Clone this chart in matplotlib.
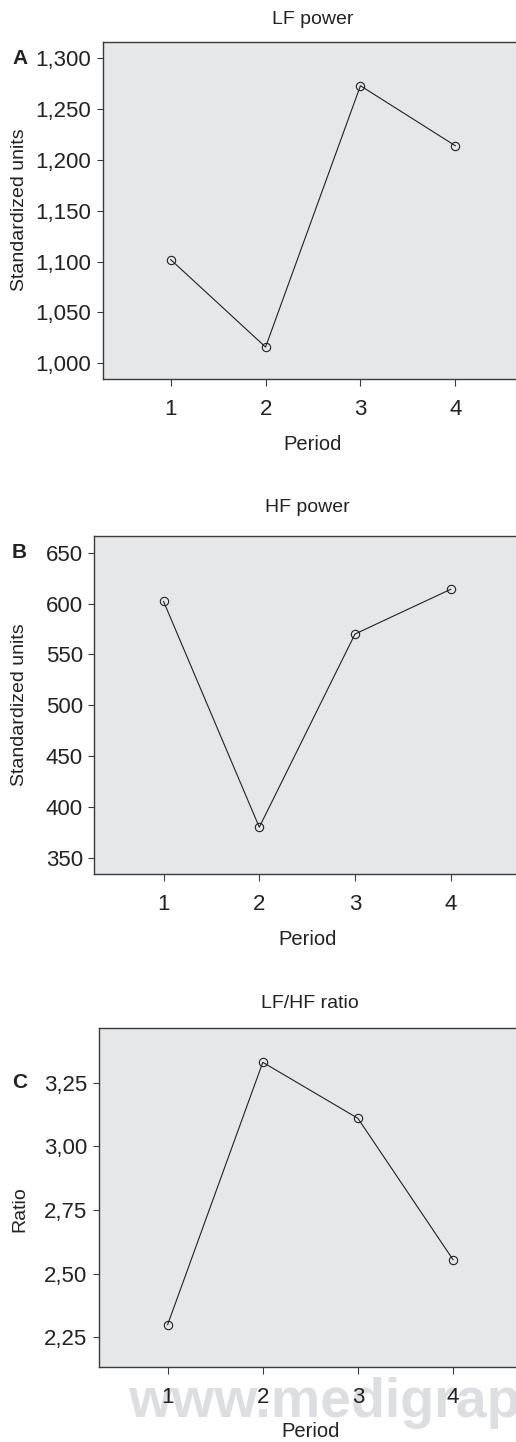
import matplotlib
matplotlib.use("Agg")
import matplotlib.pyplot as plt
from matplotlib.ticker import FixedLocator, FixedFormatter

plt.rcParams['font.family'] = ['Liberation Sans Narrow', 'Liberation Sans', 'DejaVu Sans']

periods = [1, 2, 3, 4]

lf_power = [1102, 1016, 1273, 1214]
hf_power = [602, 380, 570, 614]
lf_hf_ratio = [2.30, 3.33, 3.11, 2.555]

lf_ticks = [1000, 1050, 1100, 1150, 1200, 1250, 1300]
lf_labels = ["1,000", "1,050", "1,100", "1,150", "1,200", "1,250", "1,300"]
hf_ticks = [350, 400, 450, 500, 550, 600, 650]
hf_labels = ["350", "400", "450", "500", "550", "600", "650"]
ratio_ticks = [2.25, 2.50, 2.75, 3.00, 3.25]
ratio_labels = ["2,25", "2,50", "2,75", "3,00", "3,25"]

W, H = 516, 1442
fig = plt.figure(figsize=(W / 100, H / 100), dpi=100)

# panel layout in pixels: left, top, right, bottom
panels = [
    dict(box=(103, 42, 523, 379), xlim=(0.286, 4.714), ylim=(984.6, 1316),
         y=lf_power, ticks=lf_ticks, labels=lf_labels, title="LF power",
         ylabel="Standardized units", letter="A", letter_y=1300, title_dy=22, ylab_y=210),
    dict(box=(94.3, 536, 520, 874.3), xlim=(0.276, 4.724), ylim=(333.7, 666.4),
         y=hf_power, ticks=hf_ticks, labels=hf_labels, title="HF power",
         ylabel="Standardized units", letter="B", letter_y=650, title_dy=28, ylab_y=705),
    dict(box=(98.7, 1028.3, 522, 1366.7), xlim=(0.275, 4.725), ylim=(2.1346, 3.4636),
         y=lf_hf_ratio, ticks=ratio_ticks, labels=ratio_labels, title="LF/HF ratio",
         ylabel="Ratio", letter="C", letter_y=3.25, title_dy=25, ylab_y=1209),
]

# watermark behind the last panel
fig.text(128 / W, 1 - 1417 / H, "www.medigraph", fontsize=40, fontweight='bold',
         color='#dcdee2', ha='left', va='baseline', zorder=-1)

for p in panels:
    l, t, r, b = p['box']
    ax = fig.add_axes([l / W, 1 - b / H, (r - l) / W, (b - t) / H])
    ax.set_facecolor('#e6e7e9')
    ax.plot(periods, p['y'], color='#222222', linewidth=0.8, marker='o',
            markersize=6, markerfacecolor='none', markeredgecolor='#222222',
            markeredgewidth=0.8)
    ax.set_xlim(*p['xlim'])
    ax.set_ylim(*p['ylim'])
    ax.set_xticks(periods)
    ax.set_xticklabels([str(v) for v in periods])
    ax.yaxis.set_major_locator(FixedLocator(p['ticks']))
    ax.yaxis.set_major_formatter(FixedFormatter(p['labels']))
    for s in ['left', 'top', 'bottom', 'right']:
        ax.spines[s].set_color('#3a3a3a')
        ax.spines[s].set_linewidth(1.0)
    ax.tick_params(axis='y', direction='out', length=4.3, width=0.8, color='#3a3a3a',
                   labelsize=16, pad=4, labelcolor='#222222')
    ax.tick_params(axis='x', direction='out', length=5.3, width=0.8, color='#3a3a3a',
                   labelsize=16, pad=9, labelcolor='#222222')

    hpx = b - t
    ax.text(0.5, 1 + p['title_dy'] / hpx, p['title'], transform=ax.transAxes,
            ha='center', va='center', fontsize=14, color='#222222')
    ax.set_xlabel("Period", fontsize=14.5, color='#222222')
    ax.xaxis.set_label_coords(0.5, -65 / hpx)
    ax.xaxis.label.set_va('center')
    ax.set_ylabel(p['ylabel'], fontsize=14, color='#222222')
    ax.yaxis.set_label_coords((20 - l) / (r - l), (b - p['ylab_y']) / hpx)
    ax.yaxis.label.set_va('center')

    # panel letter aligned with the top tick
    ax.text((12 - l) / (r - l), p['letter_y'], p['letter'],
            transform=ax.get_yaxis_transform(), ha='left', va='center',
            fontsize=15, fontweight='bold', color='#222222')

fig.savefig("out.png", dpi=100)
